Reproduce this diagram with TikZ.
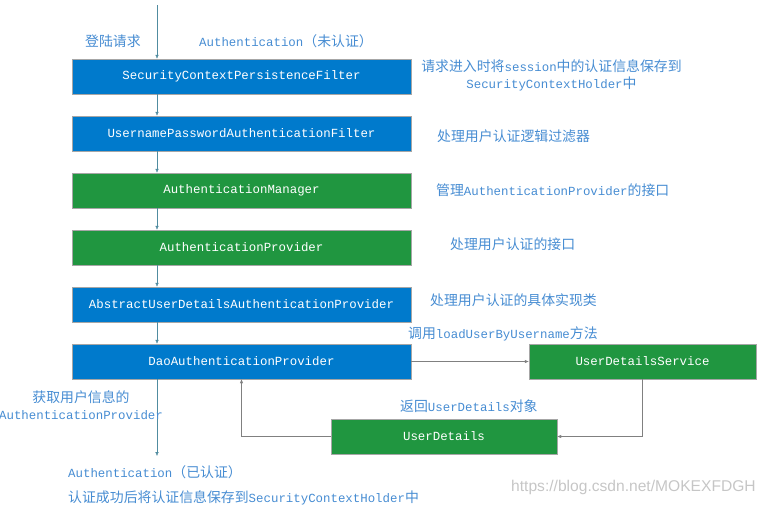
\documentclass[tikz,border=0pt]{standalone}
\usepackage{fontspec}
\setmainfont{Liberation Mono}
\newfontfamily\cjk[Scale=1.12]{Noto Sans CJK SC}
\newfontfamily\wmfont{Liberation Sans}
\usetikzlibrary{arrows.meta}
\definecolor{boxblue}{RGB}{0,122,204}
\definecolor{boxgreen}{RGB}{32,150,64}
\definecolor{notetext}{RGB}{70,140,210}
\definecolor{flowline}{RGB}{80,140,160}
\tikzset{
  box/.style={draw=gray!70, minimum height=35pt, text=white, inner sep=0pt,
    font=\fontsize{12.4}{14}\selectfont},
  bluebox/.style={box, fill=boxblue, minimum width=339pt},
  greenbox/.style={box, fill=boxgreen, minimum width=339pt},
  sidebox/.style={box, fill=boxgreen, minimum width=226pt},
  note/.style={text=notetext, inner sep=0pt, align=center,
    font=\fontsize{12.4}{17}\selectfont},
  flow/.style={draw=flowline, -{Latex[length=4pt,width=3.5pt]}},
  back/.style={draw=gray, -{Latex[length=4pt,width=3.5pt]}},
}
\begin{document}
\begin{tikzpicture}[x=1pt,y=-1pt]
  \useasboundingbox (0,0) rectangle (768,506);
  % filter chain
  \node[bluebox] (spcf) at (241.5,76.5) {SecurityContextPersistenceFilter};
  \node[bluebox] (upaf) at (241.5,133.5) {UsernamePasswordAuthenticationFilter};
  \node[greenbox] (am) at (241.5,190.5) {AuthenticationManager};
  \node[greenbox] (ap) at (241.5,247.5) {AuthenticationProvider};
  \node[bluebox] (audap) at (241.5,304.5) {AbstractUserDetailsAuthenticationProvider};
  \node[bluebox] (dao) at (241.5,361.5) {DaoAuthenticationProvider};
  \node[sidebox, minimum width=227pt] (uds) at (642.5,361.5) {UserDetailsService};
  \node[sidebox] (ud) at (444,436.5) {UserDetails};
  \coordinate (start) at (157,5);
  \coordinate (end) at (157,456);
  % connectors
  \draw[flow] (start) -- (spcf.north -| start);
  \draw[flow] (spcf.south -| start) -- (upaf.north -| start);
  \draw[flow] (upaf.south -| start) -- (am.north -| start);
  \draw[flow] (am.south -| start) -- (ap.north -| start);
  \draw[flow] (ap.south -| start) -- (audap.north -| start);
  \draw[flow] (audap.south -| start) -- (dao.north -| start);
  \draw[flow] (dao.south -| start) -- (end);
  \draw[back] (dao) -- (uds);
  \draw[back] (uds.south) |- (ud);
  \draw[back] (ud.west) -| (dao.south);
  % labels
  \node[note, anchor=west] (login) at (85,41) {\cjk 登陆请求};
  \node[note, anchor=west] (unauth) at (199,41) {Authentication{\cjk （未认证）}};
  \node[note] (spcfnote) at (551.5,75.5) {{\cjk 请求进入时将}session{\cjk 中的认证信息保存到}\\SecurityContextHolder{\cjk 中}};
  \node[note, anchor=west] (upafnote) at (437,136) {\cjk 处理用户认证逻辑过滤器};
  \node[note, anchor=west] (amnote) at (436,190) {{\cjk 管理}AuthenticationProvider{\cjk 的接口}};
  \node[note, anchor=west] (apnote) at (450,244) {\cjk 处理用户认证的接口};
  \node[note, anchor=west] (audapnote) at (430,300) {\cjk 处理用户认证的具体实现类};
  \node[note, anchor=west] (callnote) at (408,334) {{\cjk 调用}loadUserByUsername{\cjk 方法}};
  \node[note, anchor=west] (retnote) at (400,406) {{\cjk 返回}UserDetails{\cjk 对象}};
  \node[note] (fetchnote) at (81,405) {{\cjk 获取用户信息的}\\AuthenticationProvider};
  \node[note, anchor=west] (authnote) at (68,472) {Authentication{\cjk （已认证）}};
  \node[note, anchor=west] (savenote) at (68,498) {{\cjk 认证成功后将认证信息保存到}SecurityContextHolder{\cjk 中}};
  \node[anchor=west, inner sep=0pt, text=gray!45, font=\wmfont\fontsize{15.6}{18}\selectfont] (mark) at (511,487) {https://blog.csdn.net/MOKEXFDGH};
\end{tikzpicture}
\end{document}
